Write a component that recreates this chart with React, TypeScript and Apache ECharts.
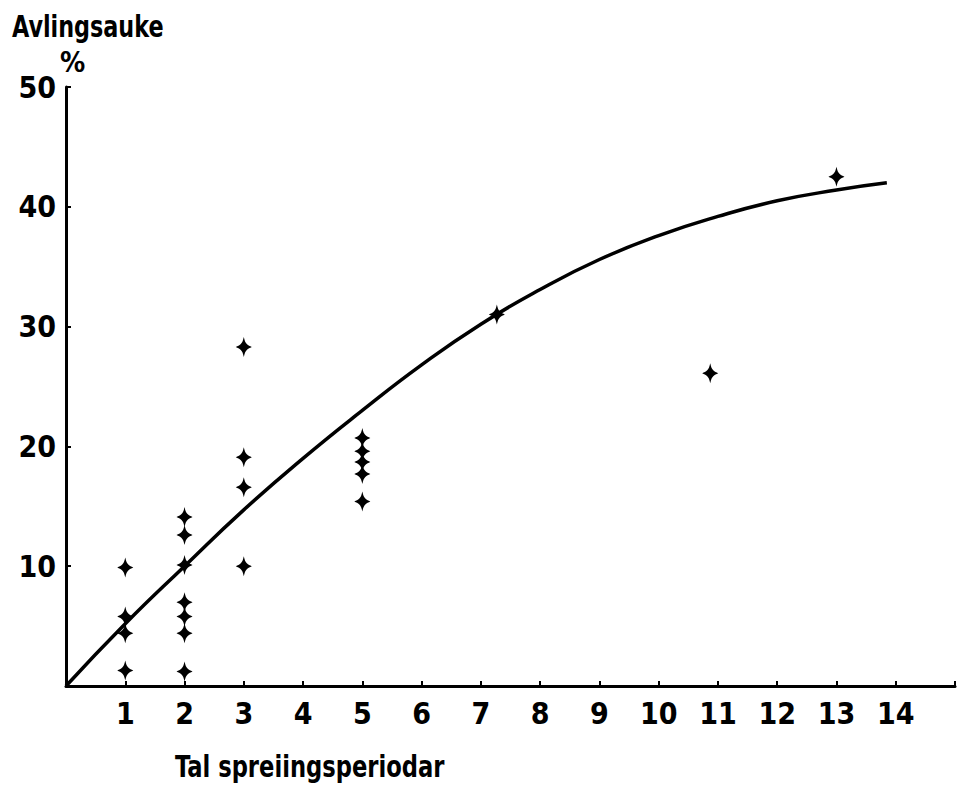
import React, { useEffect, useRef } from "react";
import * as echarts from "echarts";

const xTicks = [1, 2, 3, 4, 5, 6, 7, 8, 9, 10, 11, 12, 13, 14];
const yTicks = [10, 20, 30, 40, 50];

// observed points [spreiingsperiodar, avlingsauke %]
const observed: [number, number][] = [
  [1, 9.9], [1, 5.8], [1, 4.4], [1, 1.3],
  [2, 14.1], [2, 12.6], [2, 10.1], [2, 7.0], [2, 5.8], [2, 4.4], [2, 1.2],
  [3, 28.3], [3, 19.1], [3, 16.6], [3, 10.0],
  [5, 20.7], [5, 19.6], [5, 18.7], [5, 17.7], [5, 15.4],
  [7.27, 31.0],
  [10.87, 26.1],
  [13.0, 42.5],
];

// fitted curve
const curve: [number, number][] = [
  [0, 0], [1, 5.2], [2, 10.0], [3, 14.7], [4, 19.0], [5, 23.0], [6, 26.8],
  [7, 30.2], [8, 33.1], [9, 35.6], [10, 37.6], [11, 39.2], [12, 40.5],
  [13, 41.4], [13.85, 42.0],
];

const FONT = "'DejaVu Sans Condensed', 'DejaVu Sans', sans-serif";
const plusPath =
  "path://M0,-10 C0.9,-6 1.5,-4.5 3,-3 C4.5,-1.5 6,-1 8,0 C6,1 4.5,1.5 3,3 C1.5,4.5 0.9,6 0,10 C-0.9,6 -1.5,4.5 -3,3 C-4.5,1.5 -6,1 -8,0 C-6,-1 -4.5,-1.5 -3,-3 C-1.5,-4.5 -0.9,-6 0,-10 Z";

export default function App() {
  const ref = useRef<HTMLDivElement>(null);
  useEffect(() => {
    document.body.style.margin = "0";
    const chart = echarts.init(ref.current!, undefined, { renderer: "svg" });
    chart.setOption({
      animation: false,
      backgroundColor: "#ffffff",
      grid: { left: 66, right: 0, top: 87, bottom: 109 },
      xAxis: {
        type: "value",
        min: 0,
        max: 15,
        interval: 1,
        axisLine: { show: true, lineStyle: { color: "#000", width: 3 } },
        axisTick: { show: true, inside: true, length: 5, lineStyle: { color: "#000", width: 2 } },
        splitLine: { show: false },
        axisLabel: {
          color: "#000",
          fontFamily: FONT,
          fontWeight: "bold",
          fontSize: 30,
          margin: 12,
          formatter: (v: number) => (xTicks.includes(v) ? String(v) : ""),
        },
      },
      yAxis: {
        type: "value",
        min: 0,
        max: 50,
        interval: 10,
        axisLine: { show: true, lineStyle: { color: "#000", width: 3 } },
        axisTick: { show: true, inside: true, length: 5, lineStyle: { color: "#000", width: 2 } },
        splitLine: { show: false },
        axisLabel: {
          color: "#000",
          fontFamily: FONT,
          fontWeight: "bold",
          fontSize: 30,
          margin: 10,
          formatter: (v: number) => (yTicks.includes(v) ? String(v) : ""),
        },
      },
      series: [
        {
          type: "line",
          data: curve,
          smooth: true,
          symbol: "none",
          lineStyle: { color: "#000", width: 3.5 },
          z: 2,
        },
        {
          type: "scatter",
          data: observed,
          symbol: plusPath,
          symbolSize: [16, 20],
          itemStyle: { color: "#000", opacity: 1 },
          z: 3,
        },
      ],
      graphic: [
        {
          type: "text",
          left: 12,
          top: 11,
          scaleX: 0.8,
          style: {
            text: "Avlingsauke",
            font: `bold 31px ${FONT}`,
            fill: "#000",
          },
        },
        {
          type: "text",
          left: 60,
          top: 48,
          style: {
            text: "%",
            font: `bold 28px ${FONT}`,
            fill: "#000",
          },
        },
        {
          type: "text",
          left: 175,
          top: 752,
          scaleX: 0.84,
          style: {
            text: "Tal spreiingsperiodar",
            font: `bold 30px ${FONT}`,
            fill: "#000",
          },
        },
      ],
    });
    return () => chart.dispose();
  }, []);
  return <div ref={ref} style={{ width: 958, height: 795 }} />;
}
